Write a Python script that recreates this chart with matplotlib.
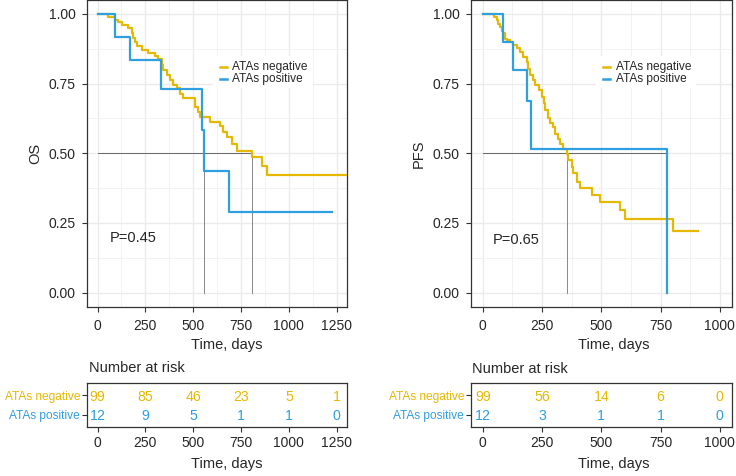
import matplotlib
matplotlib.use("Agg")
import matplotlib.pyplot as plt
from matplotlib.lines import Line2D
from matplotlib.patches import Rectangle
from matplotlib.ticker import MultipleLocator

plt.rcParams['font.family'] = ['Liberation Sans', 'DejaVu Sans']

# ---------------- data ----------------
groups = ["ATAs negative", "ATAs positive"]
colors = ["#E7B800", "#2E9FDF"]

# OS curves (time in days, survival after step)
os_neg_t = [0, 57, 91, 108, 126, 161, 179, 187, 196, 205, 231, 266, 300, 318, 335, 344,
            361, 379, 396, 414, 431, 449, 510, 527, 536, 588, 640, 658, 675, 701, 727,
            808, 858, 884, 1305]
os_neg_s = [1.0, 0.990, 0.980, 0.970, 0.960, 0.950, 0.930, 0.915, 0.900, 0.885, 0.870,
            0.860, 0.850, 0.840, 0.818, 0.798, 0.780, 0.762, 0.745, 0.735, 0.714, 0.697,
            0.667, 0.649, 0.631, 0.613, 0.597, 0.577, 0.559, 0.535, 0.509, 0.485, 0.455,
            0.422, 0.422]
os_pos_t = [0, 93, 168, 330, 548, 557, 689, 1224]
os_pos_s = [1.0, 0.917, 0.833, 0.729, 0.583, 0.437, 0.291, 0.291]

# PFS curves
pfs_neg_t = [0, 48, 59, 66, 73, 80, 87, 94, 101, 115, 129, 143, 157, 171, 185, 192, 199,
             213, 220, 235, 249, 256, 263, 277, 284, 298, 305, 319, 326, 340, 354, 361,
             375, 382, 396, 410, 459, 494, 579, 600, 803, 909]
pfs_neg_s = [1.0, 0.990, 0.980, 0.965, 0.953, 0.940, 0.930, 0.910, 0.905, 0.900, 0.888,
             0.876, 0.864, 0.846, 0.828, 0.804, 0.780, 0.762, 0.744, 0.726, 0.703, 0.679,
             0.655, 0.625, 0.607, 0.595, 0.571, 0.553, 0.535, 0.517, 0.499, 0.476, 0.452,
             0.428, 0.398, 0.374, 0.350, 0.326, 0.296, 0.266, 0.222, 0.222]
pfs_pos_t = [0, 87, 126, 188, 204, 775]
pfs_pos_s = [1.0, 0.900, 0.800, 0.686, 0.514, 0.0]

os_medians = [808, 557]
pfs_medians = [354, 775]
os_pval = "P=0.45"
pfs_pval = "P=0.65"

os_risk_times = [0, 250, 500, 750, 1000, 1250]
os_risk_neg = [99, 85, 46, 23, 5, 1]
os_risk_pos = [12, 9, 5, 1, 1, 0]
pfs_risk_times = [0, 250, 500, 750, 1000]
pfs_risk_neg = [99, 56, 14, 6, 0]
pfs_risk_pos = [12, 3, 1, 1, 0]

# ---------------- layout helpers ----------------
W, H = 736, 476
fig = plt.figure(figsize=(W / 100, H / 100), dpi=100)


def rect(l, t, r, b):
    return [l / W, 1 - b / H, (r - l) / W, (b - t) / H]


def ftxt(x, y, s, **kw):
    fig.text(x / W, 1 - y / H, s, **kw)


TXT = "#262626"
EDGE = "#333333"


def style_main(ax, xlim, ylabel, xlabel_x):
    ax.set_xlim(*xlim)
    ax.set_ylim(-0.05, 1.05)
    ax.xaxis.set_major_locator(MultipleLocator(250))
    ax.xaxis.set_minor_locator(MultipleLocator(125))
    ax.set_yticks([0, 0.25, 0.5, 0.75, 1.0])
    ax.set_yticklabels(["0.00", "0.25", "0.50", "0.75", "1.00"])
    ax.yaxis.set_minor_locator(MultipleLocator(0.125))
    ax.grid(which='major', color='#EBEBEB', lw=1.0, zorder=0)
    ax.grid(which='minor', color='#F2F2F2', lw=0.7, zorder=0)
    ax.set_axisbelow(True)
    ax.tick_params(which='minor', length=0)
    ax.tick_params(which='major', length=3.5, width=0.8, color=EDGE, labelsize=10,
                   labelcolor=TXT, pad=4.5)
    ax.tick_params(axis='x', which='major', pad=5.5)
    for sp in ax.spines.values():
        sp.set_color(EDGE)
        sp.set_linewidth(0.9)
    ax.set_ylabel(ylabel, fontsize=10.5, color=TXT, labelpad=5)
    ax.set_xlabel("Time, days", fontsize=10.5, color=TXT)
    ax.xaxis.set_label_coords(xlabel_x, -0.104)


def legend(key_l, text_x):
    fig.add_artist(Rectangle(((key_l - 7) / W, 1 - 88 / H), 100 / W, 32 / H,
                             facecolor='white', edgecolor='none', zorder=1))
    for i, (g, c) in enumerate(zip(groups, colors)):
        y = 67 + 12 * i
        fig.add_artist(Line2D([key_l / W, (key_l + 7) / W], [1 - y / H, 1 - y / H],
                              color=c, lw=1.8, zorder=2))
        ftxt(text_x, y, g, fontsize=8.6, color=TXT, ha='left', va='center', zorder=2)


def km_panel(rect_box, neg_t, neg_s, pos_t, pos_s, medians, xlim, ylabel, pval, pval_xy,
             key_l, text_x, xlabel_x):
    ax = fig.add_axes(rect_box)
    style_main(ax, xlim, ylabel, xlabel_x)
    mmax = max(medians)
    ax.plot([0, mmax], [0.5, 0.5], color='#666666', lw=0.7, zorder=2)
    for m in medians:
        ax.plot([m, m], [0, 0.5], color='#888888', lw=0.7, zorder=2)
    ax.step(neg_t, neg_s, where='post', color=colors[0], lw=1.6, zorder=3)
    ax.step(pos_t, pos_s, where='post', color=colors[1], lw=1.6, zorder=4)
    ax.text(pval_xy[0], pval_xy[1], pval, fontsize=10.5, color=TXT, ha='left',
            va='center', zorder=5)
    legend(key_l, text_x)
    return ax


def risk_table(rect_box, xlim, times, neg, pos, xlabel_x):
    ax = fig.add_axes(rect_box)
    ax.set_xlim(*xlim)
    ax.set_ylim(0.4, 2.6)
    ax.set_xticks(times)
    ax.set_xticklabels([str(t) for t in times])
    ax.set_yticks([2, 1])
    ax.set_yticklabels(groups)
    for tl, c in zip(ax.get_yticklabels(), colors):
        tl.set_color(c)
    ax.tick_params(axis='y', length=3.5, width=0.8, color=EDGE, labelsize=8.6, pad=1.5)
    ax.tick_params(axis='x', length=3.5, width=0.8, color=EDGE, labelsize=10,
                   labelcolor=TXT, pad=3.5)
    for sp in ax.spines.values():
        sp.set_color(EDGE)
        sp.set_linewidth(0.9)
    for t, a, b in zip(times, neg, pos):
        ax.text(t, 2, str(a), color=colors[0], fontsize=10.2, ha='center',
                va='center_baseline')
        ax.text(t, 1, str(b), color=colors[1], fontsize=10.2, ha='center',
                va='center_baseline')
    ax.set_xlabel("Time, days", fontsize=10.5, color=TXT)
    ax.xaxis.set_label_coords(xlabel_x, -0.70)
    return ax


# ---------------- panels ----------------
os_xlim = (-55, 1305)
pfs_xlim = (-50, 1050)

km_panel(rect(87, 0, 347.3, 306.6), os_neg_t, os_neg_s, os_pos_t, os_pos_s, os_medians,
         os_xlim, "OS", os_pval, (65, 0.196), 220, 232, 0.537)
km_panel(rect(471, 0, 731.7, 306.6), pfs_neg_t, pfs_neg_s, pfs_pos_t, pfs_pos_s,
         pfs_medians, pfs_xlim, "PFS", pfs_pval, (43, 0.19), 603, 615.7, 0.548)

ftxt(89, 368.5, "Number at risk", fontsize=10.5, color=TXT, ha='left', va='center')
ftxt(472, 369, "Number at risk", fontsize=10.5, color=TXT, ha='left', va='center')

risk_table(rect(87, 383.3, 347.3, 426.7), os_xlim, os_risk_times, os_risk_neg, os_risk_pos,
           0.537)
risk_table(rect(471, 383.3, 731.7, 426.7), pfs_xlim, pfs_risk_times, pfs_risk_neg,
           pfs_risk_pos, 0.548)

fig.savefig("out.png", dpi=100)
